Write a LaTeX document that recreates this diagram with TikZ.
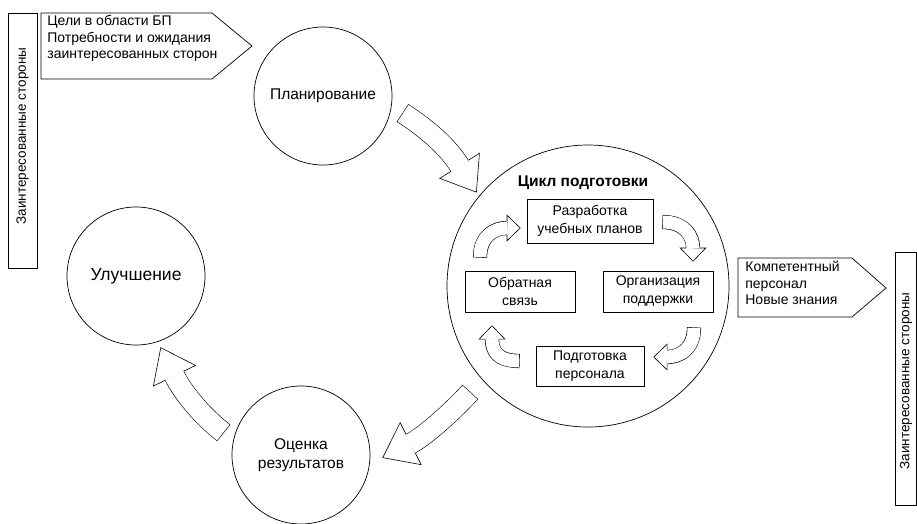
\documentclass[tikz,border=0pt]{standalone}
\usepackage{fontspec}
\setmainfont{Liberation Sans}
\usetikzlibrary{arrows.meta,calc}

% block arrow: shaft width, head length, head width, path
\newcommand{\blockarrow}[4]{%
  \draw[line width=#1+1.2pt, -{Triangle[length=#2, width=#3, line width=0.6pt, fill=white]}] #4;
  \draw[white, line width=#1, shorten <=0.6pt, shorten >=#2-1pt] #4;
}

\begin{document}
\begin{tikzpicture}[x=1pt,y=-1pt,line width=0.7pt,
    stage/.style={draw, circle, minimum size=138pt, inner sep=0pt, align=center, font=\fontsize{15.5}{19}\selectfont},
    task/.style={draw, rectangle, minimum width=110pt, minimum height=41pt, inner sep=0pt, align=center, font=\fontsize{14}{18}\selectfont},
    note/.style={align=left, inner sep=0pt, anchor=north west, font=\fontsize{14}{16.5}\selectfont},
    party/.style={rotate=90, inner sep=0pt, font=\fontsize{13.5}{15}\selectfont}]
    \pgfmathsetmacro{\bw}{20}
    \pgfmathsetmacro{\bl}{32}
    \pgfmathsetmacro{\bh}{48}
    \pgfmathsetmacro{\sw}{13}
    \pgfmathsetmacro{\sl}{14}
    \pgfmathsetmacro{\sh}{27}
    \useasboundingbox (0,0) rectangle (917,523);

    % Stakeholders on both sides
    \draw (8,13) rectangle (37,268);
    \node[party] (partyin) at (22.5,136) {Заинтересованные стороны};
    \draw (895,252) rectangle (916.5,505);
    \node[party] (partyout) at (906,381) {Заинтересованные стороны};

    % Input and output
    \draw (41,13) -- (212,13) -- (252,46) -- (212,79) -- (41,79) -- cycle;
    \node[note] (goals) at (47,15) {Цели в области БП\\Потребности и ожидания\\заинтересованных сторон};
    \draw (738,258) -- (852,258) -- (886,288) -- (852,317) -- (738,317) -- cycle;
    \node[note] (result) at (745,261) {Компетентный\\персонал\\Новые знания};

    % Outer stages
    \node[stage] (plan) at (323,96) {Планирование};
    \node[stage, font=\fontsize{17.5}{20}\selectfont] (impr) at (136,276) {Улучшение};
    \node[stage, font=\fontsize{15.5}{19.5}\selectfont] (eval) at (301,455) {Оценка\\результатов};

    % Training cycle
    \node[draw, circle, minimum size=282pt, inner sep=0pt] (cyc) at (588,286) {};
    \node[font=\fontsize{15.5}{18}\selectfont\bfseries] (title) at (583,183) {Цикл подготовки};
    \node[task, minimum width=126pt, minimum height=44pt] (dev) at (590,221) {Разработка\\учебных планов};
    \node[task] (org) at (658,291.5) {Организация\\поддержки};
    \node[task, minimum width=108pt, minimum height=40pt] (trn) at (590,366) {Подготовка\\персонала};
    \node[task] (fb) at (520,291.5) {Обратная\\связь};

    % Arrows between stages
    \blockarrow{\bw pt}{\bl pt}{\bh pt}{($(plan.-12)!-12pt!(plan.center)$) .. controls +(29,19) and +(-28,-44) .. ($(cyc.140)!-4pt!(cyc.center)$)}
    \blockarrow{\bw pt}{\bl pt}{\bh pt}{($(cyc.-138)!-17pt!(cyc.center)$) .. controls +(-20,22) and +(40,-20) .. ($(eval.-2)!-12pt!(eval.center)$)}
    \blockarrow{\bw pt}{\bl pt}{\bh pt}{($(eval.164.5)!-11pt!(eval.center)$) .. controls +(-22,-17) and +(22,45) .. ($(impr.-71)!-6pt!(impr.center)$)}

    % Arrows inside the cycle
    \blockarrow{\sw pt}{\sl pt}{\sh pt}{($(fb.north)+(-40,-13)$) .. controls +(0,-22) and +(-26,0) .. ($(dev.west)+(-6,7)$)}
    \blockarrow{\sw pt}{\sl pt}{\sh pt}{($(dev.east)+(9,1)$) .. controls +(22,0) and +(0,-26) .. ($(org.north)+(35,-9)$)}
    \blockarrow{\sw pt}{\sl pt}{\sh pt}{($(org.south)+(36,15)$) .. controls +(0,22) and +(26,0) .. ($(trn.east)+(9,-9)$)}
    \blockarrow{\sw pt}{\sl pt}{\sh pt}{($(trn.west)+(-16,-5)$) .. controls +(-22,0) and +(0,26) .. ($(fb.south)+(-28,13)$)}
\end{tikzpicture}
\end{document}
